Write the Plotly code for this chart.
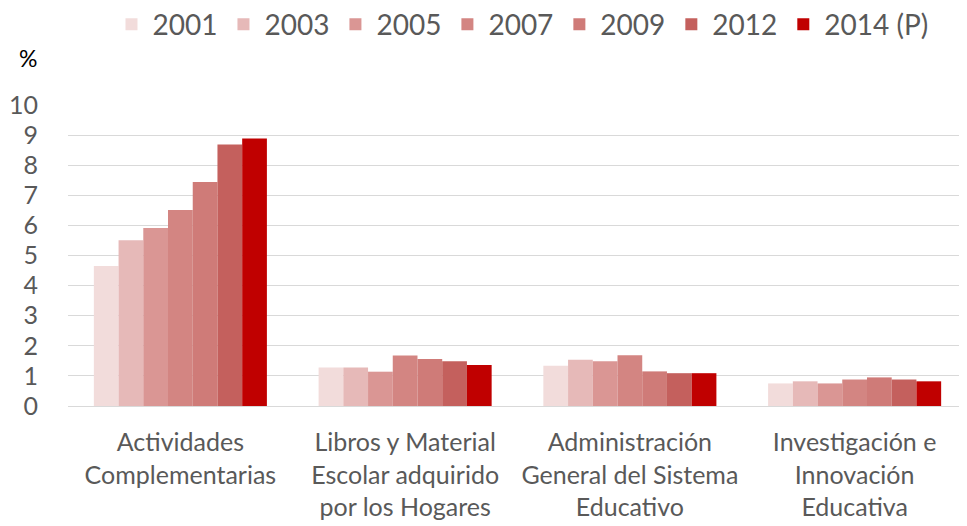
import plotly.graph_objects as go

categories = ["Actividades<br>Complementarias",
              "Libros y Material<br>Escolar adquirido<br>por los Hogares",
              "Administración<br>General del Sistema<br>Educativo",
              "Investigación e<br>Innovación<br>Educativa"]
years = ["2001", "2003", "2005", "2007", "2009", "2012", "2014 (P)"]
v2001 = [4.65, 1.28, 1.34, 0.75]
v2003 = [5.51, 1.28, 1.54, 0.82]
v2005 = [5.91, 1.14, 1.49, 0.75]
v2007 = [6.51, 1.68, 1.69, 0.88]
v2009 = [7.44, 1.56, 1.15, 0.95]
v2012 = [8.69, 1.49, 1.09, 0.88]
v2014 = [8.89, 1.36, 1.09, 0.82]
series = [v2001, v2003, v2005, v2007, v2009, v2012, v2014]
colors = ["#F2DCDB", "#E6B9B8", "#DA9694", "#D38582", "#CF7B78", "#C4605D", "#C00000"]

fig = go.Figure()
for name, vals, col in zip(years, series, colors):
    fig.add_trace(go.Bar(x=categories, y=vals, name=name, marker_color=col,
                         marker_line_width=0))

font = "Lato, 'Open Sans', sans-serif"
fig.update_layout(
    width=959, height=518,
    margin=dict(l=60, r=0, t=97, b=120, autoexpand=False),
    paper_bgcolor="white", plot_bgcolor="white",
    barmode="group", bargap=0.23, bargroupgap=0,
    font=dict(family=font, color="#595959"),
    legend=dict(orientation="h", x=0.505, xanchor="center", yref="container", y=0.968,
                yanchor="middle", font=dict(size=28, color="#595959"), itemwidth=32,
                traceorder="normal", tracegroupgap=0, bgcolor="rgba(0,0,0,0)"),
    showlegend=True,
)
fig.update_yaxes(range=[0, 10], dtick=1, showgrid=True, gridcolor="#D9D9D9", gridwidth=1,
                 zeroline=True, zerolinecolor="#D9D9D9", zerolinewidth=1, automargin=False,
                 tickfont=dict(size=25, color="#595959"), ticks="", ticklabelstandoff=29)
fig.update_xaxes(tickfont=dict(size=25, color="#595959"), showline=False, ticks="",
                 automargin=False, ticklabelstandoff=19)
fig.add_annotation(text="%", xref="paper", yref="paper", x=-0.0445, y=1.156,
                   xanchor="center", yanchor="middle", showarrow=False,
                   font=dict(size=23, color="#000000", family=font))
fig.write_html("out.html")
